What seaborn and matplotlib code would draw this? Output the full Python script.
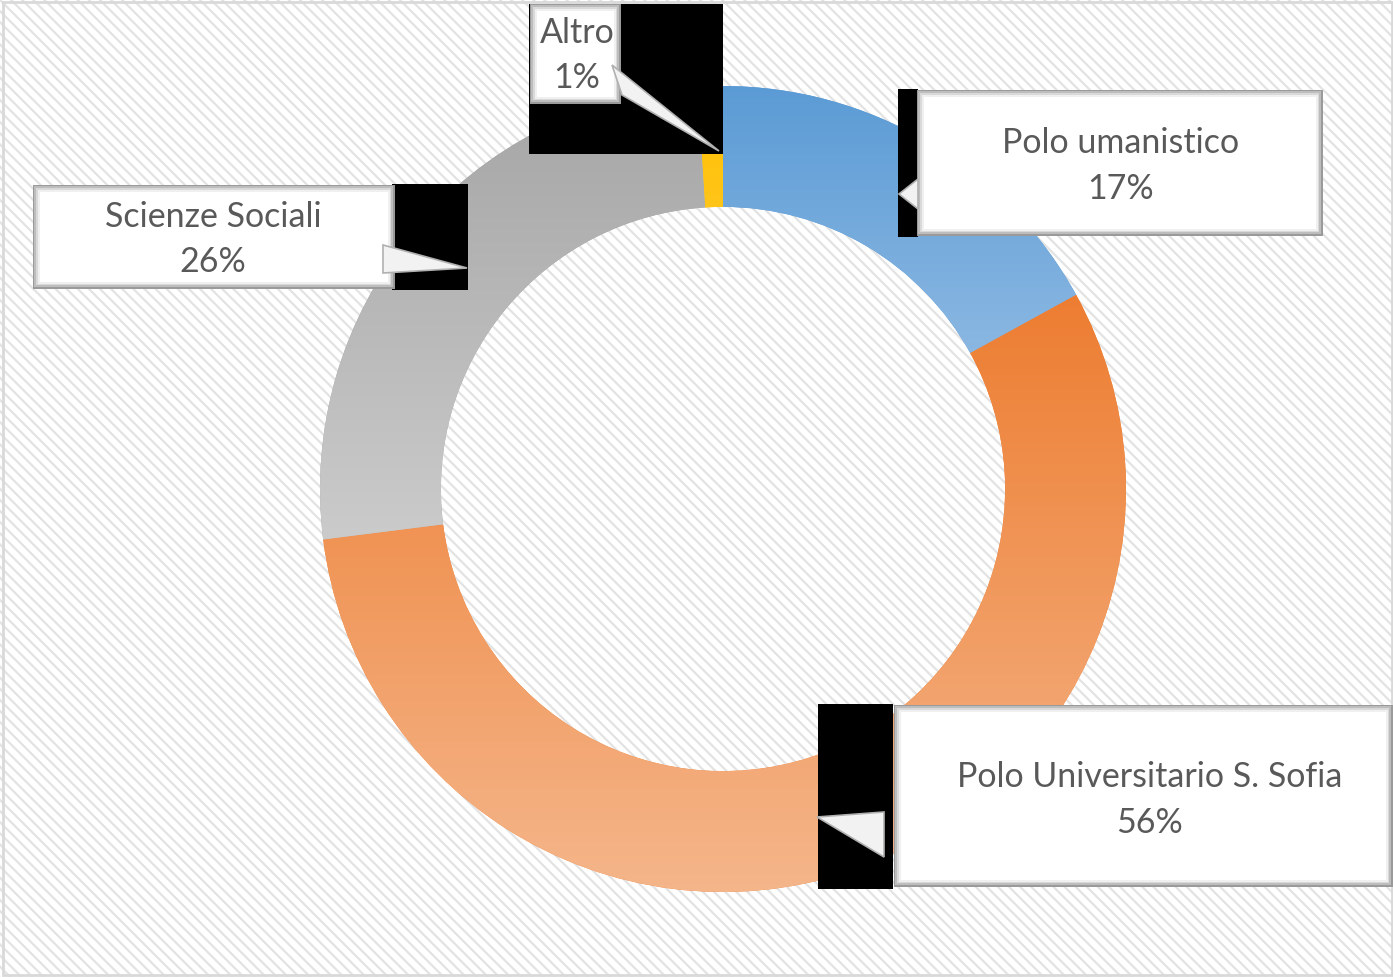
import numpy as np
import matplotlib
matplotlib.use("Agg")
import matplotlib.pyplot as plt
import seaborn as sns
from matplotlib.patches import Rectangle, Polygon

# dati
labels = ["Polo umanistico", "Polo Universitario S. Sofia", "Scienze Sociali", "Altro"]
values = [17, 56, 26, 1]
top_colors = ["#5b9bd5", "#ed7d31", "#a5a5a5", "#ffc000"]
bottom_colors = ["#a3c6e9", "#f5b68b", "#cbcbcb", "#ffcf55"]

sns.set_theme(style="white")
plt.rcParams["font.family"] = ["Lato", "DejaVu Sans"]
plt.rcParams["hatch.linewidth"] = 1.6
plt.rcParams["hatch.color"] = "#e3e3e3"

W, H = 1393, 978
fig = plt.figure(figsize=(W / 100, H / 100), dpi=100)

# sfondo tratteggiato
bg = fig.add_axes([0, 0, 1, 1], zorder=0)
bg.set_xlim(0, W)
bg.set_ylim(H, 0)
bg.axis("off")
bg.add_patch(Rectangle((0, 0), W, H, facecolor="white", edgecolor="#e3e3e3",
                       hatch="\\\\\\", lw=0))
bg.add_patch(Rectangle((3, 3), W - 4, H - 5, facecolor="none", edgecolor="#d9d9d9", lw=2))

# ciambella
cx, cy, R = 723, 490, 403
ax = fig.add_axes([(cx - R) / W, (H - cy - R) / H, 2 * R / W, 2 * R / H], zorder=1)
ax.patch.set_alpha(0)
wedges, _ = ax.pie(values, startangle=90, counterclock=False, radius=1,
                   colors=top_colors, wedgeprops=dict(width=0.30, linewidth=0))
ax.set_aspect("auto")
ax.axis("off")

# sfumature verticali per ogni spicchio
for w, c1, c2 in zip(wedges, top_colors, bottom_colors):
    verts = w.get_path().vertices
    x0, x1 = verts[:, 0].min(), verts[:, 0].max()
    y0, y1 = verts[:, 1].min(), verts[:, 1].max()
    a = np.array(matplotlib.colors.to_rgb(c1))
    b = np.array(matplotlib.colors.to_rgb(c2))
    t = np.linspace(0, 1, 256)[:, None]
    grad = (a * (1 - t) + b * t)[:, None, :]
    im = ax.imshow(grad, extent=[x0, x1, y0, y1], origin="upper", aspect="auto", zorder=2)
    im.set_clip_path(w)
ax.set_xlim(-1, 1)
ax.set_ylim(-1, 1)

# etichette a fumetto
ov = fig.add_axes([0, 0, 1, 1], zorder=3)
ov.set_xlim(0, W)
ov.set_ylim(H, 0)
ov.axis("off")
ov.patch.set_alpha(0)

boxes = {
    "Altro": dict(black=(529, 5, 723, 155), box=(530, 5, 621, 105),
                  ptr=[(612, 66), (622, 96), (719, 152)], tx=577, ty=(33, 78)),
    "Polo umanistico": dict(black=(898, 90, 918, 238), box=(917, 91, 1323, 237),
                            ptr=[(918, 180), (918, 210), (899, 195)], tx=1121, ty=(143, 189)),
    "Scienze Sociali": dict(black=(392, 185, 468, 291), box=(33, 186, 395, 290),
                            ptr=[(383, 246), (383, 274), (467, 269)], tx=213, ty=(217, 262)),
    "Polo Universitario S. Sofia": dict(black=(818, 705, 893, 890), box=(894, 706, 1393, 888),
                                        ptr=[(884, 813), (884, 858), (817, 818)], tx=1150, ty=(777, 823)),
}

for lab, val in zip(labels, values):
    b = boxes[lab]
    x0, y0, x1, y1 = b["black"]
    ov.add_patch(Rectangle((x0, y0), x1 - x0, y1 - y0, facecolor="black", lw=0))
    x0, y0, x1, y1 = b["box"]
    # cornice smussata
    ov.add_patch(Rectangle((x0, y0), x1 - x0, y1 - y0, facecolor="#9a9a9a", lw=0))
    ov.add_patch(Rectangle((x0 + 1, y0 + 1), x1 - x0 - 3, y1 - y0 - 3, facecolor="#bdbdbd", lw=0))
    ov.add_patch(Rectangle((x0 + 3, y0 + 3), x1 - x0 - 7, y1 - y0 - 7, facecolor="#d9d9d9", lw=0))
    ov.add_patch(Rectangle((x0 + 5, y0 + 5), x1 - x0 - 10, y1 - y0 - 10, facecolor="#f0f0f0", lw=0))
    ov.add_patch(Rectangle((x0 + 7, y0 + 7), x1 - x0 - 14, y1 - y0 - 14, facecolor="white", lw=0))
    ov.add_patch(Polygon(b["ptr"], closed=True, facecolor="#f2f2f2", edgecolor="#b0b0b0", lw=1.2))
    ov.text(b["tx"], b["ty"][0], lab, ha="center", va="center", fontsize=24.5, color="#595959")
    ov.text(b["tx"], b["ty"][1], f"{val}%", ha="center", va="center", fontsize=24.5, color="#595959")

fig.savefig("out.png", dpi=100)
